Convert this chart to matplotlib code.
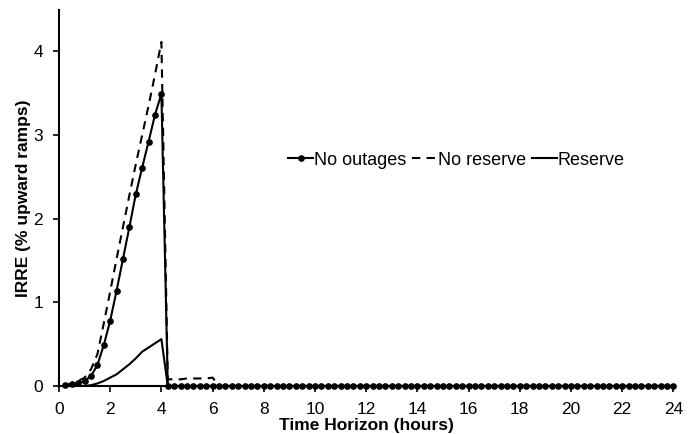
import numpy as np
import matplotlib
matplotlib.use("Agg")
import matplotlib.pyplot as plt

plt.rcParams['font.family'] = ['Liberation Sans', 'DejaVu Sans']

hours = [0.25 * i for i in range(1, 97)]

no_outages_head = [0.01, 0.02, 0.03, 0.06, 0.12, 0.25, 0.49, 0.78, 1.14, 1.52,
                   1.90, 2.29, 2.61, 2.92, 3.24, 3.49]
no_reserve_head = [0.01, 0.03, 0.06, 0.10, 0.20, 0.38, 0.75, 1.13, 1.52, 1.90,
                   2.28, 2.65, 3.00, 3.35, 3.72, 4.11,
                   0.08, 0.08, 0.08, 0.09, 0.09, 0.09, 0.09, 0.10]
reserve_head = [0.0, 0.0, 0.0, 0.0, 0.01, 0.03, 0.06, 0.10, 0.14, 0.20,
                0.26, 0.33, 0.41, 0.46, 0.51, 0.56]

n = len(hours)
no_outages = no_outages_head + [0.0] * (n - len(no_outages_head))
no_reserve = no_reserve_head + [0.0] * (n - len(no_reserve_head))
reserve = reserve_head + [0.0] * (n - len(reserve_head))

fig = plt.figure(figsize=(6.91, 4.34), dpi=100)
ax = fig.add_axes([0.0854, 0.1106, 0.889, 0.866])

ax.plot(hours, no_reserve, color='black', lw=1.5, ls=(0, (4, 3)), label='No reserve')
ax.plot(hours, reserve, color='black', lw=1.5, label='Reserve')
ax.plot(hours, no_outages, color='black', lw=1.5, marker='o', ms=3.8,
        label='No outages', clip_on=False, zorder=5)

ax.set_xlim(0, 24)
ax.set_ylim(0, 4.49)
ax.set_xticks(range(0, 25, 2))
ax.set_yticks(range(0, 5))
for s in ['top', 'right']:
    ax.spines[s].set_visible(False)
for s in ['left', 'bottom']:
    ax.spines[s].set_linewidth(1.5)
ax.tick_params(axis='both', direction='out', width=1.2, length=4.5, labelsize=12.5, pad=7)
ax.set_xlabel('Time Horizon (hours)', fontsize=12.5, fontweight='bold', labelpad=1)
ax.set_ylabel('IRRE (% upward ramps)', fontsize=12.5, fontweight='bold', labelpad=2)

h, l = ax.get_legend_handles_labels()
order = [2, 0, 1]
ax.legend([h[i] for i in order], [l[i] for i in order], ncol=3, frameon=False,
          loc='center', bbox_to_anchor=(0.647, 0.601), fontsize=13,
          handlelength=1.4, handletextpad=0.05, columnspacing=0.3)

fig.savefig('out.png', dpi=100)
